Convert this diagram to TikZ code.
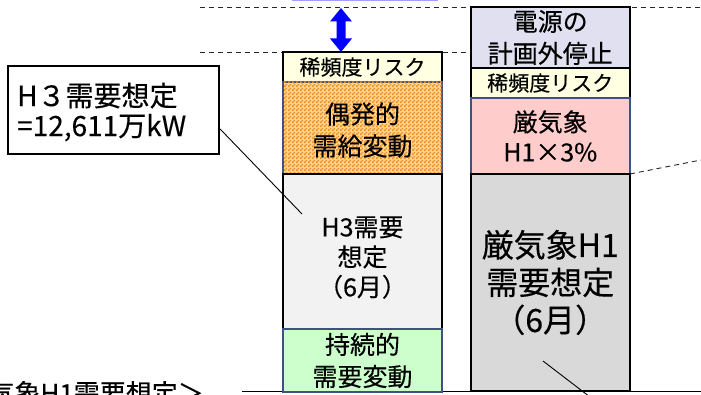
\documentclass[tikz,border=0pt]{standalone}
\usepackage{fontspec}
\setmainfont{Noto Sans CJK JP}[FakeBold=0.3]
\usetikzlibrary{patterns,calc}
\pgfdeclarepatternformonly{finecheck}{\pgfpointorigin}{\pgfqpoint{4pt}{4pt}}{\pgfqpoint{4pt}{4pt}}{%
  \pgfpathrectangle{\pgfpointorigin}{\pgfqpoint{2pt}{2pt}}%
  \pgfpathrectangle{\pgfqpoint{2pt}{2pt}}{\pgfqpoint{2pt}{2pt}}%
  \pgfusepath{fill}}
\definecolor{rareyellow}{RGB}{255,255,225}
\definecolor{orgbase}{RGB}{255,212,145}
\definecolor{orgpat}{RGB}{238,140,28}
\definecolor{bordblue}{RGB}{60,82,132}
\definecolor{hthree}{RGB}{242,242,242}
\definecolor{greenbox}{RGB}{204,255,204}
\definecolor{lavbox}{RGB}{224,224,240}
\definecolor{pinkbox}{RGB}{255,204,204}
\definecolor{graybox}{RGB}{217,217,217}
\definecolor{arrowblue}{RGB}{0,0,255}
\definecolor{lavline}{RGB}{160,160,255}
\definecolor{baseline}{RGB}{90,90,90}
\begin{document}
\begin{tikzpicture}[x=1pt,y=-1pt,
  colbox/.style={inner sep=0pt, align=center, minimum width=159pt, text=black},
  blkbox/.style={colbox, draw=black, line width=2pt},
  blubox/.style={colbox, draw=bordblue, line width=1.5pt},
  guide/.style={draw=black!85, line width=0.9pt, dash pattern=on 5pt off 4pt},
  leader/.style={draw=black, line width=0.9pt}
]
\useasboundingbox (0,0) rectangle (701,395);
\clip (0,0) rectangle (701,395);

% guide lines
\coordinate (g1a) at (200,7);
\coordinate (g1b) at (701,7);
\coordinate (g2a) at (200,52);
\coordinate (g2b) at (470,52);
\coordinate (g3a) at (630,174);
\coordinate (g3b) at (701,160);
\draw[guide] (g1a) -- (g1b);
\draw[guide] (g2a) -- (g2b);
\draw[guide] (g3a) -- (g3b);
\coordinate (b1) at (242,391.5);
\coordinate (b2) at (701,391.5);
\draw[baseline, line width=1.5pt] (b1) -- (b2);

% top cut-off box edge
\fill[lavline] (292,-2) rectangle (438,1.3);

% blue double arrow
\fill[arrowblue] (341,8) -- (352,21.5) -- (345.5,21.5) -- (345.5,38.5) -- (352,38.5) -- (341,52)
  -- (330,38.5) -- (336.5,38.5) -- (336.5,21.5) -- (330,21.5) -- cycle;

% left column
\node[blkbox, fill=rareyellow, minimum height=30pt, font=\fontsize{21}{26}\selectfont] (L1) at (362.5,67) {稀頻度リスク};
\node[blubox, fill=orgbase, minimum height=92pt,
  postaction={pattern=finecheck, pattern color=orgpat}] (L2) at (362.5,128) {};
\node[colbox, font=\fontsize{25}{32}\selectfont] (L2t) at (362.5,130) {偶発的\\需給変動};
\node[blkbox, fill=hthree, minimum height=155pt] (L3) at (362.5,251.5) {};
\node[colbox, font=\fontsize{25}{30}\selectfont] (L3t) at (362.5,257.5) {H3需要\\想定\\（6月）};
\node[blubox, fill=greenbox, minimum height=63pt, font=\fontsize{25}{32}\selectfont] (L4) at (362.5,360.5) {持続的\\需要変動};

% right column
\node[blkbox, fill=lavbox, minimum height=61pt, font=\fontsize{25}{32}\selectfont] (R1) at (550.25,37.5) {電源の\\計画外停止};
\node[blkbox, fill=rareyellow, minimum height=30pt, font=\fontsize{21}{26}\selectfont] (R2) at (550.25,83) {稀頻度リスク};
\node[blubox, fill=pinkbox, minimum height=76pt, font=\fontsize{25}{30}\selectfont] (R3) at (550.25,136) {厳気象\\H1×3\%};
\node[blkbox, fill=graybox, minimum height=217pt, font=\fontsize{32}{37.5}\selectfont] (R4) at (550.25,282.5) {厳気象H1\\需要想定\\（6月）};

% callout
\node[draw=black, line width=2pt, fill=white, minimum width=211pt, minimum height=88pt, inner sep=0pt] (callout) at (113.5,110) {};
\node[anchor=west, align=left, inner sep=0pt, font=\fontsize{28}{30}\selectfont] (callouttext) at (17,112) {H３需要想定\\=12,611万kW};
\coordinate (ctip) at (302,214);
\draw[leader] ($(callout.north east)!0.71!(callout.south east)$) -- (ctip);

% right leader
\coordinate (r1) at (543,361);
\coordinate (r2) at (590,397);
\draw[leader] (r1) -- (r2);

% bottom label (cut off at the lower edge, as in the reference)
\node[anchor=base east, inner sep=0pt, font=\fontsize{26}{30}\selectfont] (h1label) at (204,403) {＜厳気象H1需要想定＞};
\end{tikzpicture}
\end{document}
